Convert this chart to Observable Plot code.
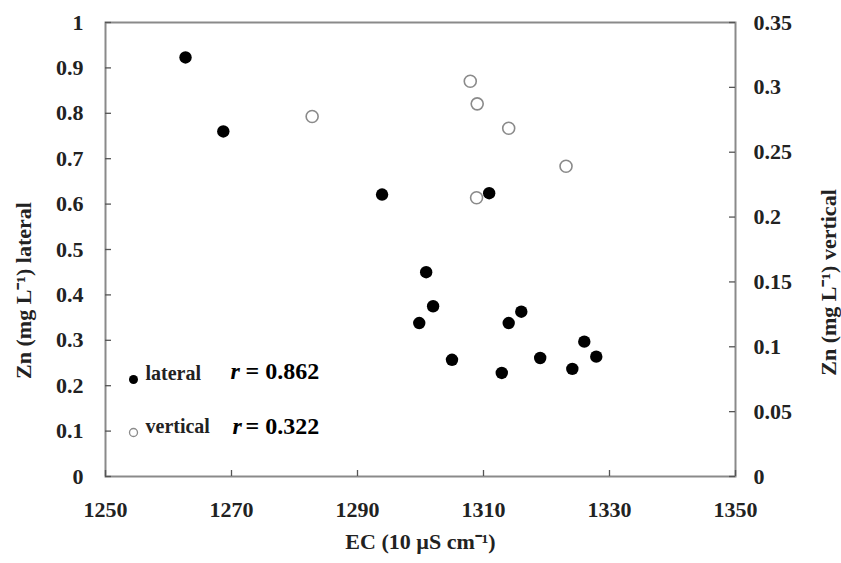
<!DOCTYPE html>
<html><head><meta charset="utf-8">
<script src="https://cdn.jsdelivr.net/npm/d3@7"></script>
<script src="https://cdn.jsdelivr.net/npm/@observablehq/plot@0.6"></script>
<style>body{margin:0;background:#fff}</style>
</head><body><div id="chart"></div>
<script>
// Data
const lateralEC = [1262.7, 1268.7, 1293.9, 1300.9, 1302.0, 1299.8, 1305.0, 1310.9, 1314.0, 1316.0, 1312.9, 1319.0, 1324.1, 1326.0, 1327.9];
const lateralZn = [0.923, 0.760, 0.621, 0.450, 0.375, 0.338, 0.257, 0.624, 0.338, 0.363, 0.228, 0.261, 0.237, 0.297, 0.264];
const verticalEC = [1282.8, 1307.9, 1309.0, 1314.0, 1323.1, 1308.9];
const verticalZn = [0.2775, 0.3047, 0.2873, 0.2685, 0.2392, 0.2149];
const xTicks = [1250, 1270, 1290, 1310, 1330, 1350];
const leftTicks = [0, 0.1, 0.2, 0.3, 0.4, 0.5, 0.6, 0.7, 0.8, 0.9, 1];
const rightTicks = [0, 0.05, 0.1, 0.15, 0.2, 0.25, 0.3, 0.35];
const rightMax = 0.35;
const legendNames = ["lateral", "vertical"];
const rValues = ["= 0.862", "= 0.322"];

const lateral = lateralEC.map((x, i) => ({x, y: lateralZn[i]}));
const vertical = verticalEC.map((x, i) => ({x, y: verticalZn[i] / rightMax}));
const rightPos = rightTicks.map(v => v / rightMax);

const W = 841, H = 563, ML = 105, MR = 106, MT = 22, MB = 87;
const fw = W - ML - MR, fh = H - MT - MB, tl = 6;

const serif = "'Liberation Serif', 'Times New Roman', serif";
const tickFont = {fontSize: 22, fontWeight: "bold", fontFamily: serif, fill: "#222"};

const plot = Plot.plot({
  width: W,
  height: H,
  marginLeft: ML,
  marginRight: MR,
  marginTop: MT,
  marginBottom: MB,
  style: {fontFamily: serif, background: "#fff"},
  x: {domain: [1250, 1350]},
  y: {domain: [0, 1]},
  marks: [
    Plot.frame({stroke: "#8a8a8a", strokeWidth: 2}),
    // inward tick marks
    Plot.tickY(leftTicks, {y: d => d, insetRight: fw - tl, stroke: "#555", strokeWidth: 1.3}),
    Plot.tickY(rightPos, {y: d => d, insetLeft: fw - tl, stroke: "#555", strokeWidth: 1.3}),
    Plot.tickX(xTicks, {x: d => d, insetTop: fh - tl, stroke: "#555", strokeWidth: 1.3}),
    // tick labels
    Plot.axisX(xTicks, {anchor: "bottom", tickSize: 0, tickPadding: 25, tickFormat: d => String(d), label: null, ...tickFont}),
    Plot.axisY(leftTicks, {anchor: "left", tickSize: 0, tickPadding: 22, tickFormat: d => String(+d.toFixed(2)), label: null, ...tickFont}),
    Plot.axisY(rightPos, {anchor: "right", tickSize: 0, tickPadding: 18, tickFormat: d => String(+(d * rightMax).toFixed(3)), label: null, ...tickFont}),
    Plot.dot(vertical, {x: "x", y: "y", r: 6, stroke: "#8a8a8a", strokeWidth: 1.6, fill: "#fff"}),
    Plot.dot(lateral, {x: "x", y: "y", r: 6.2, fill: "#000", stroke: "none"}),
    // Axis titles
    Plot.text(["EC (10 µS cm\u207B\u00B9)"], {frameAnchor: "bottom", dy: 72, fontSize: 22, fontWeight: "bold", fill: "#222"}),
    Plot.text(["Zn (mg L\u207B\u00B9) lateral"], {frameAnchor: "left", textAnchor: "middle", dx: -82, dy: 41, rotate: -90, fontSize: 22, fontWeight: "bold", fill: "#222"}),
    Plot.text(["Zn (mg L\u207B\u00B9) vertical"], {frameAnchor: "right", textAnchor: "middle", dx: 93, dy: 33, rotate: -90, fontSize: 22, fontWeight: "bold", fill: "#222"}),
    // Legend
    Plot.dot([legendNames[0]], {frameAnchor: "bottom-left", dx: 28, dy: -97, r: 4.5, fill: "#000"}),
    Plot.dot([legendNames[1]], {frameAnchor: "bottom-left", dx: 28, dy: -44, r: 4, stroke: "#8a8a8a", strokeWidth: 1.3, fill: "#fff"}),
    Plot.text([legendNames[0]], {frameAnchor: "bottom-left", dx: 40, dy: -97, textAnchor: "start", fontSize: 20, fontWeight: "bold", fill: "#222"}),
    Plot.text([legendNames[1]], {frameAnchor: "bottom-left", dx: 40, dy: -44, textAnchor: "start", fontSize: 20, fontWeight: "bold", fill: "#222"}),
    Plot.text(["r"], {frameAnchor: "bottom-left", dx: 125, dy: -98, textAnchor: "start", fontSize: 24, fontWeight: "bold", fontStyle: "italic", fill: "#000"}),
    Plot.text(["r"], {frameAnchor: "bottom-left", dx: 127, dy: -43, textAnchor: "start", fontSize: 24, fontWeight: "bold", fontStyle: "italic", fill: "#000"}),
    Plot.text([rValues[0]], {frameAnchor: "bottom-left", dx: 140, dy: -98, textAnchor: "start", fontSize: 24, fontWeight: "bold", fill: "#000"}),
    Plot.text([rValues[1]], {frameAnchor: "bottom-left", dx: 140, dy: -43, textAnchor: "start", fontSize: 24, fontWeight: "bold", fill: "#000"})
  ]
});
document.getElementById("chart").appendChild(plot);
</script>
</body></html>
